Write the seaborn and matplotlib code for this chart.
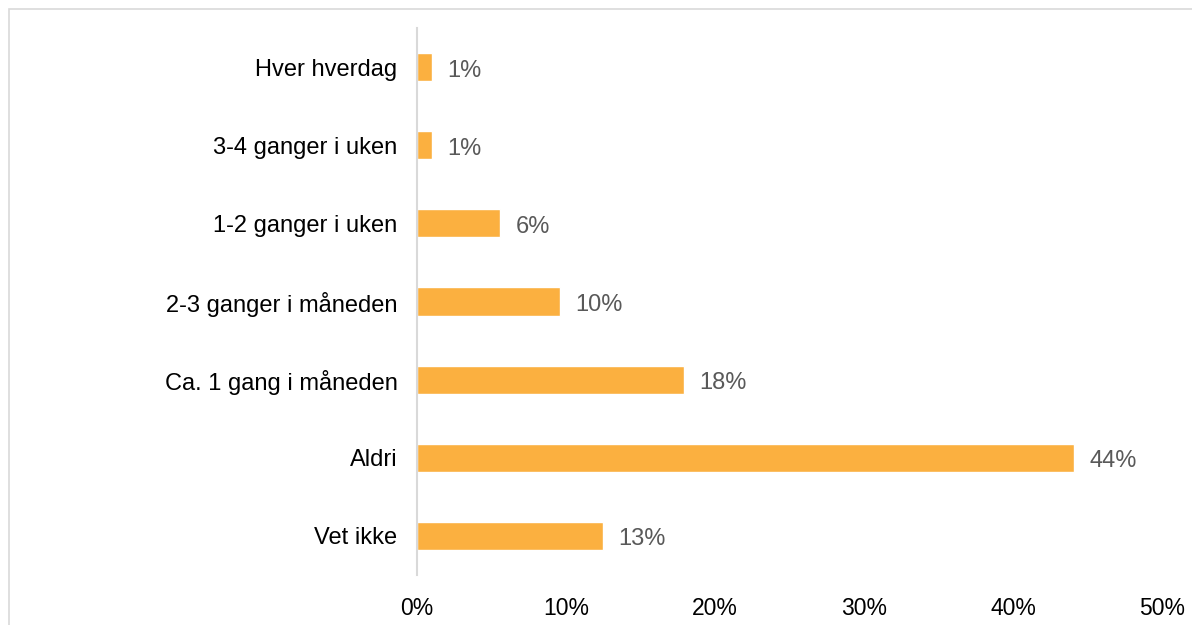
import pandas as pd
import matplotlib.pyplot as plt
import seaborn as sns
from matplotlib.patches import Rectangle

# --- data ---
categories = ['Hver hverdag', '3-4 ganger i uken', '1-2 ganger i uken',
              '2-3 ganger i måneden', 'Ca. 1 gang i måneden', 'Aldri', 'Vet ikke']
shares = [1, 1, 5.6, 9.6, 17.9, 44.1, 12.5]
value_labels = ['1%', '1%', '6%', '10%', '18%', '44%', '13%']
x_ticks = [0, 10, 20, 30, 40, 50]

df = pd.DataFrame({'category': categories, 'share': shares})

sns.set_style('white')
plt.rcParams['font.family'] = ['Liberation Sans', 'DejaVu Sans']

fig = plt.figure(figsize=(11.92, 6.25), dpi=100)
ax = fig.add_axes([0.3498, 0.08, 0.625, 0.8752])

sns.barplot(data=df, x='share', y='category', color='#FBB040',
            saturation=1, width=0.36, ax=ax)

# value labels next to each bar
for i, (v, lab) in enumerate(zip(shares, value_labels)):
    ax.annotate(lab, (v, i), xytext=(11, -2.5), textcoords='offset points',
                va='center', ha='left', fontsize=17, color='#595959')

ax.set_xlim(0, 50)
ax.set_ylim(6.5, -0.5)
ax.set_xticks(x_ticks)
ax.set_xticklabels([f'{t}%' for t in x_ticks])
ax.tick_params(axis='x', length=0, pad=16, labelsize=16.5, labelcolor='black')
ax.tick_params(axis='y', length=0, pad=14, labelsize=17, labelcolor='black')
ax.set_xlabel('')
ax.set_ylabel('')

for s in ['top', 'right', 'bottom']:
    ax.spines[s].set_visible(False)
ax.spines['left'].set_color('#D9D9D9')
ax.spines['left'].set_linewidth(1.5)

# light frame around the chart area (cropped on the right and bottom)
fig.patches.append(Rectangle((9 / 1192, -0.1), 1.2, 1 - 9 / 625 + 0.1,
                             transform=fig.transFigure, fill=False,
                             edgecolor='#D9D9D9', linewidth=1.2))

fig.savefig('out.png', dpi=100)
